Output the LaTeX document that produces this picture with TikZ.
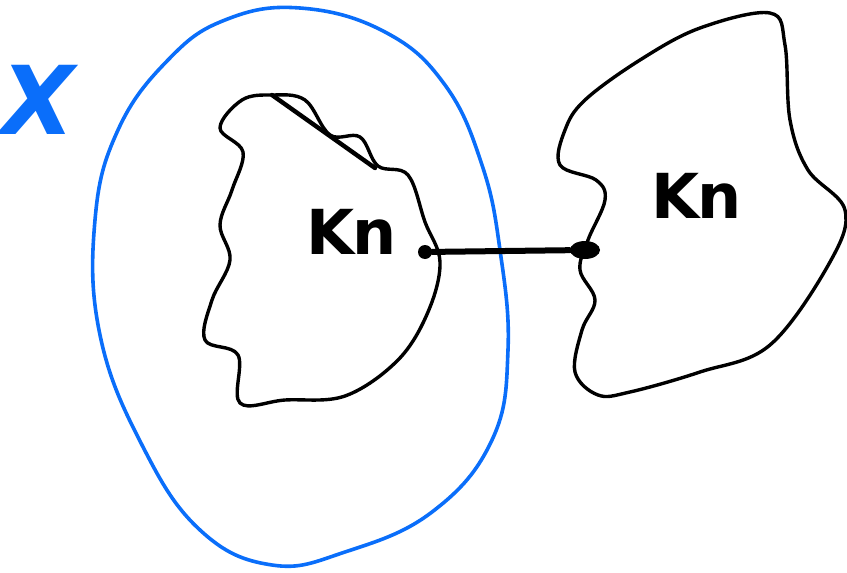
\documentclass[tikz,border=0pt]{standalone}
\usepackage{fontspec}
\usetikzlibrary{shapes.geometric}
\setmainfont{DejaVu Sans}
\definecolor{penblue}{RGB}{10,110,250}
\tikzset{
  blob/.style={line width=3.4pt, line join=round, line cap=round},
  oval/.style={draw=penblue, line width=3.6pt},
  dotnode/.style={circle, fill=black, inner sep=0pt, minimum size=14pt},
  lbl/.style={font=\fontsize{62}{62}\selectfont\bfseries, inner sep=0pt},
  edge/.style={line width=6pt, line cap=round}
}
\begin{document}
\begin{tikzpicture}[x=1pt,y=-1pt]
\useasboundingbox (0,0) rectangle (847,573);
% blue region
\draw[oval] plot[smooth cycle, tension=0.7] coordinates {
 (225,20) (300,8) (385,32) (445,85) (482,165) (500,250) (508,350)
 (492,440) (432,512) (345,552) (272,565) (200,530) (142,445)
 (100,335) (95,220) (118,130) (168,60)};
\node[text=penblue, font=\fontsize{95}{95}\selectfont\itshape\bfseries, inner sep=0pt] (xlab) at (38,100) {X};
% left blob
\draw[blob] plot[smooth cycle, tension=0.6] coordinates {
 (272,95) (242,100) (220,128) (243,152) (232,190) (220,225) (230,260)
 (212,300) (205,340) (238,355) (240,403) (285,400) (345,396) (398,360)
 (428,312) (440,262) (425,222) (408,175) (378,166) (360,137) (330,135) (305,100)};
\draw[blob, line width=4.4pt] (272,95) -- (375,168);
% right blob
\draw[blob] plot[smooth cycle, tension=0.6] coordinates {
 (585,100) (640,60) (700,28) (770,13) (785,45) (790,120) (808,170)
 (845,210) (830,262) (770,345) (700,372) (630,392) (598,395) (575,372)
 (582,330) (595,300) (580,270) (588,240) (605,200) (596,180) (560,165) (565,130)};
% labels
\node[lbl] (k1) at (352,232) {K\kern-2pt n};
\node[lbl] (k2) at (697,196) {K\kern-2pt n};
% edge
\node[dotnode] (a) at (425,252) {};
\node[ellipse, fill=black, inner sep=0pt, minimum width=30pt, minimum height=18pt] (b) at (585,250) {};
\draw[edge] (a) -- (b);
\end{tikzpicture}
\end{document}
